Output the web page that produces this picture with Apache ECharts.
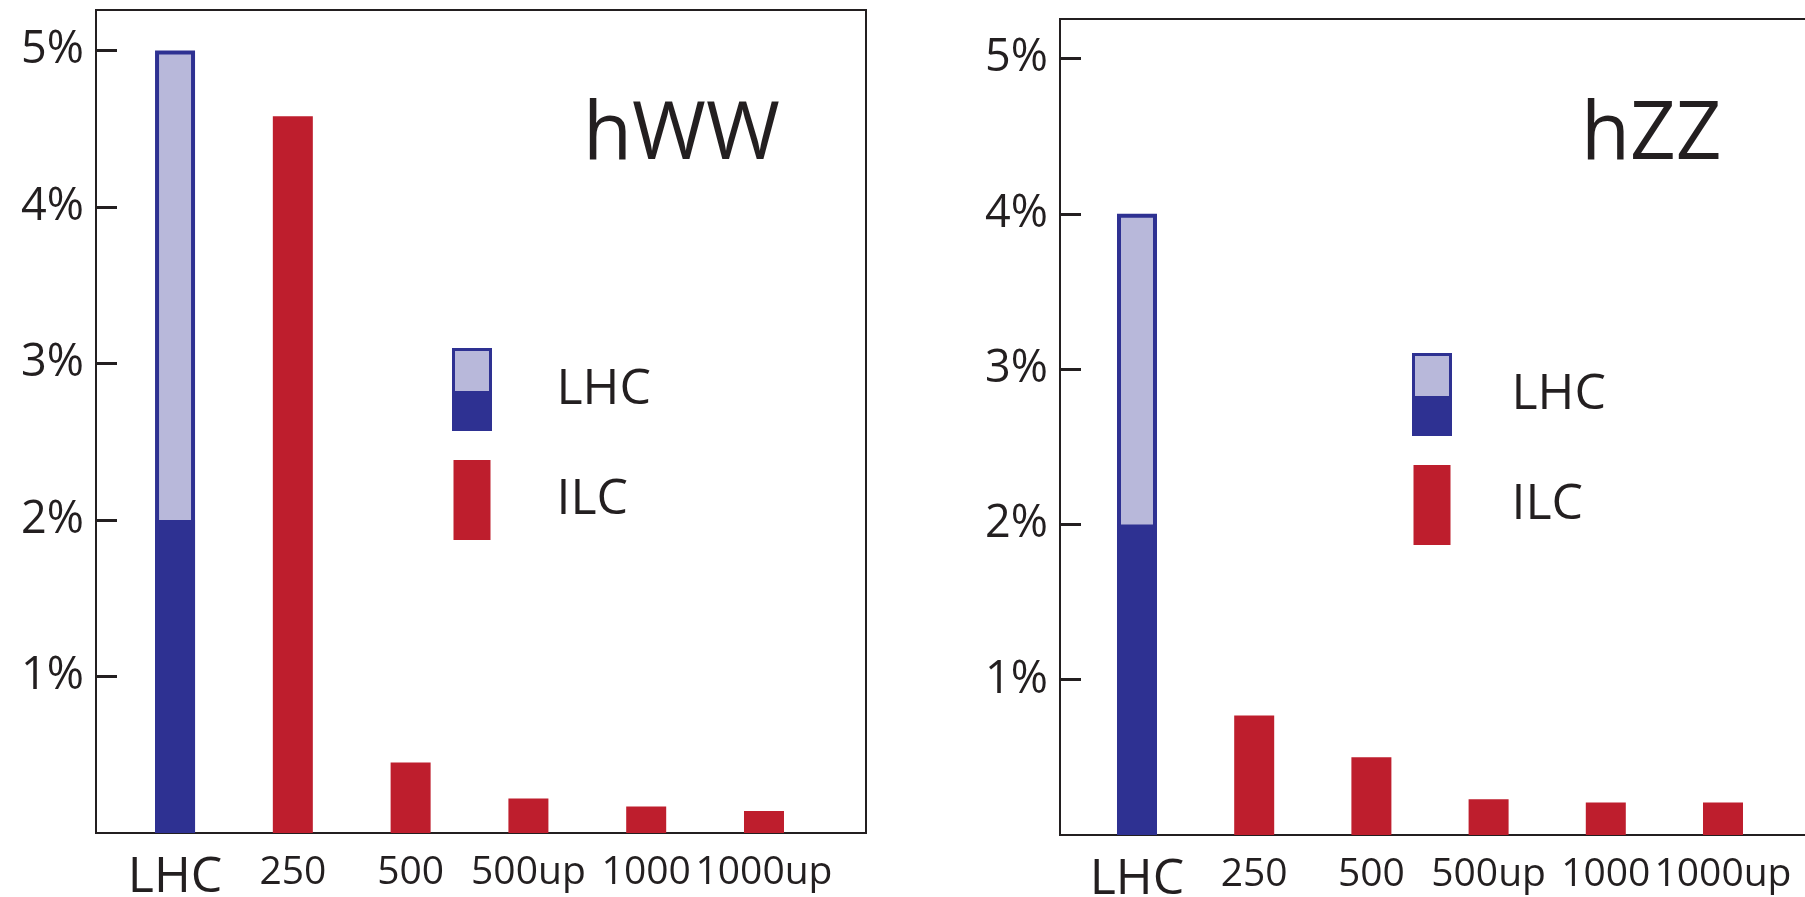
<!DOCTYPE html>
<html>
<head>
<meta charset="utf-8">
<script src="https://cdn.jsdelivr.net/npm/echarts@6/dist/echarts.min.js"></script>
<style>
html,body{margin:0;padding:0;background:#fff;}
#chart{width:1805px;height:897px;}
</style>
</head>
<body>
<div id="chart"></div>
<script>
// ---- data ----
const categories = ['LHC', '250', '500', '500up', '1000', '1000up'];
const yTicks = [1, 2, 3, 4, 5];
const hwwLhcBase = 2.0;      // dark part of LHC bar (%)
const hwwLhcTotal = 5.0;     // full LHC bar (%)
const hwwIlc = [4.58, 0.45, 0.22, 0.17, 0.14];   // 250 ... 1000up
const hzzLhcBase = 2.0;
const hzzLhcTotal = 4.0;
const hzzIlc = [0.77, 0.50, 0.23, 0.21, 0.21];

// ---- style ----
const DARK = '#2e3192', LIGHT = '#b8b8da', RED = '#be1e2d', INK = '#231f20';
const FONT = 'Open Sans';

const xIdx = categories.map((c, i) => i);
function ilcData(vals) { return vals.map((v, i) => [i + 1, v]); }

function xAxis(gi, min, max) {
  return {
    type: 'value', gridIndex: gi, min: min, max: max,
    axisLine: {show: false, onZero: false}, axisTick: {show: false}, splitLine: {show: false},
    axisLabel: {
      customValues: xIdx, margin: 20, hideOverlap: false, showMinLabel: true, showMaxLabel: true,
      color: INK, fontFamily: FONT, fontSize: 39,
      formatter: v => {
        const c = categories[Math.round(v)];
        return c === 'LHC' ? '{big|' + c + '}' : '{n|' + c + '}';
      },
      rich: {
        big: {fontSize: 50, fontFamily: FONT, color: INK},
        n: {fontSize: 39, fontFamily: FONT, color: INK}
      }
    }
  };
}
function yAxis(gi, max) {
  return {
    type: 'value', gridIndex: gi, min: 0, max: max,
    axisLine: {show: false, onZero: false}, splitLine: {show: false},
    axisTick: {show: true, inside: true, length: 21, customValues: yTicks,
      lineStyle: {color: INK, width: 3}},
    axisLabel: {customValues: yTicks, formatter: v => v + '%', margin: 12,
      color: INK, fontFamily: FONT, fontSize: 45}
  };
}
function lhcSeries(gi, base, total) {
  return [
    {name: 'LHC', type: 'bar', xAxisIndex: gi, yAxisIndex: gi,
      barWidth: 40, barGap: '-100%', data: [[0, total]],
      itemStyle: {color: LIGHT, borderColor: DARK, borderWidth: 4}},
    {name: 'LHC base', type: 'bar', xAxisIndex: gi, yAxisIndex: gi,
      barWidth: 40, barGap: '-100%', data: [[0, base]],
      itemStyle: {color: DARK, borderColor: DARK, borderWidth: 4}}
  ];
}
function ilcSeries(gi, vals) {
  return {name: 'ILC', type: 'bar', xAxisIndex: gi, yAxisIndex: gi, barWidth: 40, barGap: '-100%',
    data: ilcData(vals), itemStyle: {color: RED}};
}
const lhcIcon = {
  type: 'linear', x: 0, y: 0, x2: 0, y2: 1,
  colorStops: [{offset: 0, color: LIGHT}, {offset: 0.52, color: LIGHT},
               {offset: 0.52, color: DARK}, {offset: 1, color: DARK}]
};
function legend(left, top, pad) {
  return {
    orient: 'vertical', left: left, top: top, padding: 0, itemWidth: 37, itemHeight: 80, itemGap: 29,
    selectedMode: false, icon: 'rect',
    textStyle: {fontFamily: FONT, fontSize: 50, color: INK, padding: [0, 0, 0, pad]},
    data: [
      {name: 'LHC', itemStyle: {color: lhcIcon, borderColor: DARK, borderWidth: 3}},
      {name: 'ILC', itemStyle: {color: RED, borderWidth: 0}}
    ]
  };
}

const chart = echarts.init(document.getElementById('chart'), null, {renderer: 'canvas'});
chart.setOption({
  animation: false,
  backgroundColor: '#fff',
  title: [
    {text: 'hWW', left: 583, top: 96, padding: 0, textStyle: {fontFamily: FONT, fontSize: 80, fontWeight: 'normal', color: INK}},
    {text: 'hZZ', left: 1581, top: 96, padding: 0, textStyle: {fontFamily: FONT, fontSize: 80, fontWeight: 'normal', color: INK}}
  ],
  legend: [legend(452, 348, 61), legend(1412, 353, 56)],
  grid: [
    {left: 96, top: 10, width: 770, height: 823, show: true, borderColor: INK, borderWidth: 2,
      containLabel: false, outerBoundsMode: 'none'},
    {left: 1060, top: 19, width: 800, height: 816, show: true, borderColor: INK, borderWidth: 2,
      containLabel: false, outerBoundsMode: 'none'}
  ],
  xAxis: [xAxis(0, -0.671, 5.866), xAxis(1, -0.657, 6.169)],
  yAxis: [yAxis(0, 5.259), yAxis(1, 5.254)],
  series: [
    ...lhcSeries(0, hwwLhcBase, hwwLhcTotal), ilcSeries(0, hwwIlc),
    ...lhcSeries(1, hzzLhcBase, hzzLhcTotal), ilcSeries(1, hzzIlc)
  ]
});
</script>
</body>
</html>
